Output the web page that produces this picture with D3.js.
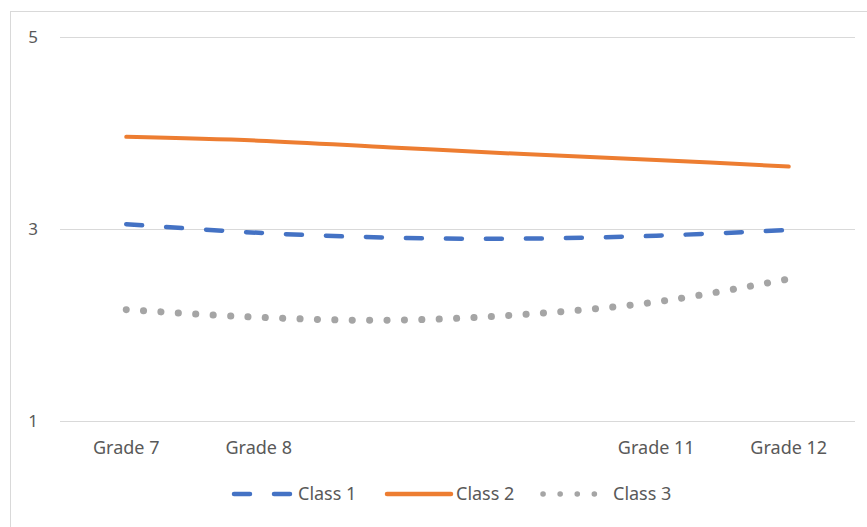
<!DOCTYPE html>
<html>
<head>
<meta charset="utf-8">
<script src="https://cdn.jsdelivr.net/npm/d3@7"></script>
<style>
  body { margin: 0; background: #fff; }
  text { font-family: "Noto Sans", sans-serif; fill: #595959; }
</style>
</head>
<body>
<svg id="chart" width="867" height="527"></svg>
<script>
var grades = ["Grade 7", "Grade 8", "", "", "Grade 11", "Grade 12"];
var class1 = [3.05, 2.96, 2.91, 2.90, 2.93, 2.99];
var class2 = [3.96, 3.92, 3.85, 3.78, 3.72, 3.65];
var class3 = [2.16, 2.08, 2.05, 2.11, 2.24, 2.48];
var yTicks = [1, 3, 5];
var seriesNames = ["Class 1", "Class 2", "Class 3"];

var svg = d3.select("#chart");

// chart frame
svg.append("rect")
    .attr("x", 10.5).attr("y", 11.5)
    .attr("width", 900).attr("height", 600)
    .attr("fill", "none")
    .attr("stroke", "#d9d9d9");

var x = d3.scalePoint()
    .domain(d3.range(grades.length))
    .range([60, 855])
    .padding(0.5);
var y = d3.scaleLinear()
    .domain([1, 5])
    .range([421, 37]);

// gridlines
svg.selectAll(".grid")
    .data(yTicks)
    .enter()
    .append("line")
    .attr("x1", 60).attr("x2", 855)
    .attr("y1", function (d) { return y(d) + 0.5 })
    .attr("y2", function (d) { return y(d) + 0.5 })
    .attr("stroke", "#d9d9d9")
    .attr("stroke-width", 1);

svg.selectAll(".ylab")
    .data(yTicks)
    .enter()
    .append("text")
    .attr("x", 38)
    .attr("y", function (d) { return y(d) })
    .attr("dy", "0.35em")
    .attr("text-anchor", "end")
    .style("font-size", "17px")
    .text(function (d) { return d });

svg.selectAll(".xlab")
    .data(grades)
    .enter()
    .append("text")
    .attr("x", function (d, i) { return x(i) })
    .attr("y", 448)
    .attr("dy", "0.35em")
    .attr("text-anchor", "middle")
    .style("font-size", "18px")
    .text(function (d) { return d });

var styles = [
    { color: "#4472C4", dash: "16,24", width: 4.5 },
    { color: "#ED7D31", dash: null, width: 4 },
    { color: "#A5A5A5", dash: "0.1,17.3", width: 7 }
];
var allSeries = [class1, class2, class3];

var line = d3.line()
    .x(function (d, i) { return x(i) })
    .y(function (d) { return y(d) })
    .curve(d3.curveCardinal.tension(0));

allSeries.forEach(function (vals, k) {
    svg.append("path")
        .datum(vals)
        .attr("d", line)
        .attr("fill", "none")
        .attr("stroke", styles[k].color)
        .attr("stroke-width", styles[k].width)
        .attr("stroke-linecap", "round")
        .attr("stroke-dasharray", styles[k].dash);
});

// legend
var legend = [
    { x1: 234, x2: 290, dash: "16,24", width: 4.5, tx: 298 },
    { x1: 387, x2: 451, dash: null, width: 4.5, tx: 456 },
    { x1: 543, x2: 596, dash: "0.1,17", width: 5.5, tx: 613 }
];
var legendY = 494;
seriesNames.forEach(function (name, k) {
    svg.append("line")
        .attr("x1", legend[k].x1).attr("x2", legend[k].x2)
        .attr("y1", legendY).attr("y2", legendY)
        .attr("stroke", styles[k].color)
        .attr("stroke-width", legend[k].width)
        .attr("stroke-linecap", "round")
        .attr("stroke-dasharray", legend[k].dash);
    svg.append("text")
        .attr("x", legend[k].tx)
        .attr("y", legendY)
        .attr("dy", "0.35em")
        .style("font-size", "18px")
        .text(name);
});
</script>
</body>
</html>
